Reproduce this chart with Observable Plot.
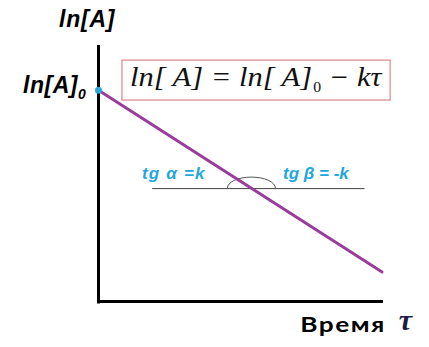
<!DOCTYPE html>
<html>
<head>
<meta charset="utf-8">
<script src="https://cdn.jsdelivr.net/npm/d3@7"></script>
<script src="https://cdn.jsdelivr.net/npm/@observablehq/plot@0.6"></script>
<style>
  html, body { margin: 0; padding: 0; background: #fff; }
</style>
</head>
<body>
<div id="chart"></div>
<script>
// First-order kinetics: ln[A] falls linearly with time τ
const tau = [0, 9.95];              // time, arbitrary units
const lnA = [8.25, 1.15];           // ln[A] at those times
const lnA0 = 8.25;                  // intercept ln[A]0

// horizontal reference line used to mark the slope angles
const refTau = [1.9, 9.35];
const refLnA = 4.41;
const crossTau = (lnA0 - refLnA) / ((lnA[0] - lnA[1]) / (tau[1] - tau[0]));

// text labels
const yAxisTitle = "ln[A]";
const interceptLabel = ["ln[A]", "0"];
const equationParts = ["ln[ A] = ln[ A]", "0", " − kτ"];
const slopeAlpha = {tau: 1.54, lnA: 4.77, text: "tg α =k"};
const slopeBeta = {tau: 6.49, lnA: 4.77, text: "tg β = -k"};
const xAxisTitle = ["Время", "τ"];

// equation frame, in data units
const eqBox = {x1: 0.84, x2: 10.25, y1: 7.85, y2: 9.41};

// left-anchored text (odd parts become subscripts), placed through the plot's scales
function svgText(x, y, parts, style) {
  return (index, {x: sx, y: sy}) => {
    const k = style.stretch || 1;
    const t = d3.create("svg:text")
      .attr("transform", `translate(${sx(x)},${sy(y)}) scale(${k},1)`)
      .attr("text-anchor", "start")
      .attr("font-family", style.family)
      .attr("font-size", style.size)
      .attr("font-style", style.italic ? "italic" : "normal")
      .attr("font-weight", style.weight || "normal")
      .attr("letter-spacing", style.spacing || 0)
      .attr("fill", style.fill || "#000");
    const sub = style.sub || {};
    parts.forEach((p, i) => {
      const span = t.append("tspan").text(p);
      if (i % 2 === 1) {
        span.attr("font-size", sub.size || style.size * 0.6)
          .attr("dy", sub.dy || style.size * 0.25);
        if (sub.upright) span.attr("font-style", "normal");
        if (sub.dx) span.attr("dx", sub.dx);
      } else if (i > 0) {
        span.attr("dy", -(sub.dy || style.size * 0.25));
      }
    });
    return t.node();
  };
}

// half-ellipse arc over the crossing point
function angleArc(cx, cy, rx, ry) {
  return (index, {x: sx, y: sy}) => {
    const x0 = sx(cx), y0 = sy(cy);
    return d3.create("svg:path")
      .attr("d", `M${x0 - rx},${y0} A${rx},${ry} 0 0 1 ${x0 + rx},${y0}`)
      .attr("fill", "none")
      .attr("stroke", "#555")
      .attr("stroke-width", 1)
      .node();
  };
}

const sans = "Liberation Sans, Arial, sans-serif";
const serif = "Liberation Serif, Times New Roman, serif";
const slopeStyle = {family: sans, size: 17, weight: "bold", italic: true, fill: "#22a6de"};

const chart = Plot.plot({
  width: 429,
  height: 347,
  marginLeft: 98,
  marginRight: 46,
  marginTop: 45,
  marginBottom: 46,
  x: {domain: [0, 10], axis: null},
  y: {domain: [0, 10], axis: null},
  marks: [
    // equation frame
    Plot.rect([eqBox], {x1: "x1", x2: "x2", y1: "y1", y2: "y2",
      fill: "none", stroke: "#d9888c", strokeWidth: 1.2}),
    // axes
    Plot.ruleX([0], {y1: -0.1, y2: 10, stroke: "#000", strokeWidth: 3}),
    Plot.ruleY([0], {x1: 0, x2: 10, stroke: "#000", strokeWidth: 3}),
    // reference horizontal
    Plot.ruleY([refLnA], {x1: refTau[0], x2: refTau[1], stroke: "#444", strokeWidth: 1}),
    angleArc(crossTau, refLnA, 24, 11),
    // ln[A] vs τ
    Plot.line(tau.map((t, i) => ({t, v: lnA[i]})), {x: "t", y: "v",
      stroke: "#9a3c9c", strokeWidth: 3, strokeLinecap: "round"}),
    Plot.dot([{t: 0, v: lnA0}], {x: "t", y: "v", r: 3.5, fill: "#2aa8dc"}),
    // titles and labels
    svgText(-1.37, 10.7, [yAxisTitle],
      {family: sans, size: 23, weight: "bold", italic: true, spacing: 0.8}),
    svgText(-2.63, 8.13, interceptLabel,
      {family: sans, size: 23, weight: "bold", italic: true, spacing: 0.5,
       sub: {size: 14, dy: 6}}),
    svgText(1.12, 8.38, equationParts,
      {family: serif, size: 27, italic: true, fill: "#111", stretch: 1.13,
       sub: {size: 14, dy: 6, upright: true, dx: 1}}),
    svgText(slopeAlpha.tau, slopeAlpha.lnA, [slopeAlpha.text], {...slopeStyle, spacing: 1.2}),
    svgText(slopeBeta.tau, slopeBeta.lnA, [slopeBeta.text], slopeStyle),
    svgText(7.1, -1.2, [xAxisTitle[0]],
      {family: "Lato, sans-serif", size: 21.5, weight: "bold", spacing: 1.2, stretch: 1.22}),
    svgText(10.55, -1.15, [xAxisTitle[1]],
      {family: serif, size: 30, weight: "bold", italic: true, fill: "#1c1c45"})
  ]
});

document.getElementById("chart").appendChild(chart);
</script>
</body>
</html>
